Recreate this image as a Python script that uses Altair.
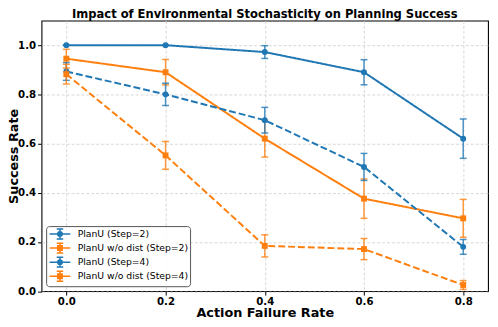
import altair as alt
import pandas as pd

# ---- data ----
rates = [0.0, 0.2, 0.4, 0.6, 0.8]
series_names = ["PlanU (Step=2)", "PlanU w/o dist (Step=2)", "PlanU (Step=4)", "PlanU w/o dist (Step=4)"]
means = [
    [1.000, 1.000, 0.972, 0.890, 0.620],
    [0.945, 0.890, 0.620, 0.376, 0.296],
    [0.893, 0.800, 0.695, 0.505, 0.180],
    [0.882, 0.552, 0.184, 0.171, 0.025],
]
errs = [
    [0.000, 0.000, 0.026, 0.051, 0.080],
    [0.038, 0.052, 0.075, 0.080, 0.077],
    [0.036, 0.045, 0.052, 0.055, 0.030],
    [0.040, 0.056, 0.045, 0.043, 0.018],
]

# ---- styles ----
colors = ["#1f77b4", "#ff7f0e", "#1f77b4", "#ff7f0e"]
dashes = [[1, 0], [1, 0], [7, 3], [7, 3]]
markers = ["circle", "square", "circle", "square"]
FONT = "DejaVu Sans"

# legend glyphs (unit = 5 px with symbolSize 100): line + error bar + marker
bar = "M-2.1,0H2.1M0,-1V1M-0.66,-1H0.66M-0.66,1H0.66"
circ = ("M-0.46,0A0.46,0.46 0 1,0 0.46,0A0.46,0.46 0 1,0 -0.46,0"
        "M-0.18,0A0.18,0.18 0 1,0 0.18,0A0.18,0.18 0 1,0 -0.18,0")
sq = "M-0.46,-0.46H0.46V0.46H-0.46ZM-0.18,-0.18H0.18V0.18H-0.18ZM-0.04,0H0.04"
legend_paths = [bar + circ, bar + sq, bar + circ, bar + sq]

rows = []
for s, m, e in zip(series_names, means, errs):
    for r, v, d in zip(rates, m, e):
        rows.append({"series": s, "rate": r, "mean": v, "lo": v - d, "hi": v + d})
df = pd.DataFrame(rows)

x_enc = alt.X("rate:Q", scale=alt.Scale(domain=[-0.05, 0.85], nice=False, zero=False),
              axis=alt.Axis(values=rates, format=".1f", title="Action Failure Rate",
                            titleBaseline="alphabetic", titleY=26))
y_enc = alt.Y("mean:Q", scale=alt.Scale(domain=[0, 1.1], nice=False),
              axis=alt.Axis(values=[0, 0.2, 0.4, 0.6, 0.8, 1.0], format=".1f",
                            title="Success Rate", titleBaseline="alphabetic", titleX=-24.5))

layers = []
for i, s in enumerate(series_names):
    base = alt.Chart(df).transform_filter(alt.datum.series == s)
    c = alt.value(colors[i])
    layers.append(base.mark_line(strokeWidth=2, strokeDash=dashes[i]).encode(
        x=x_enc, y=y_enc, color=c))
    layers.append(base.mark_rule(strokeWidth=1.5, opacity=0.8).encode(
        x=x_enc, y="lo:Q", y2="hi:Q", color=c))
    layers.append(base.mark_tick(orient="horizontal", size=7, thickness=1.5, opacity=0.8).encode(
        x=x_enc, y="lo:Q", color=c))
    layers.append(base.mark_tick(orient="horizontal", size=7, thickness=1.5, opacity=0.8).encode(
        x=x_enc, y="hi:Q", color=c))
    layers.append(base.mark_point(filled=True, size=36, opacity=1, shape=markers[i]).encode(
        x=x_enc, y=y_enc, color=c))

legend_cfg = alt.Legend(title=None, orient="none", legendX=4.7, legendY=208.5, labelFont=FONT,
                        labelFontSize=9.4, labelColor="black", symbolStrokeWidth=1.5,
                        symbolSize=100, fillColor="rgba(255,255,255,0.8)", strokeColor="#555555",
                        cornerRadius=3, padding=2, rowPadding=-1.7, labelOffset=12,
                        symbolOffset=6, symbolOpacity=1)
legend_layer = alt.Chart(df).transform_filter("false").mark_point(
    filled=False, strokeWidth=1.5).encode(
    x=x_enc, y=y_enc,
    color=alt.Color("series:N", scale=alt.Scale(domain=series_names, range=colors), legend=legend_cfg),
    shape=alt.Shape("series:N", scale=alt.Scale(domain=series_names, range=legend_paths), legend=legend_cfg),
)
layers.append(legend_layer)

chart = alt.layer(*layers).properties(
    width=453, height=274.5,
    title=alt.TitleParams("Impact of Environmental Stochasticity on Planning Success",
                          font=FONT, fontSize=11.7, fontWeight="bold", color="black",
                          anchor="middle", offset=0, frame="group"),
    autosize=alt.AutoSizeParams(type="none"),
    padding={"left": 34, "top": 10.5, "right": 2, "bottom": 26},
).configure_view(stroke="black", strokeWidth=1.1).configure_axis(
    labelFont=FONT, labelFontSize=10.3, labelFontWeight="bold", labelColor="black",
    titleFont=FONT, titleFontSize=13, titleFontWeight="bold", titleColor="black",
    tickColor="black", tickSize=4, tickWidth=1, labelPadding=2, domain=False,
    grid=True, gridColor="#cccccc", gridDash=[3, 2], gridWidth=0.8,
)

chart.save("out.html", embed_options={"renderer": "svg", "actions": False})
